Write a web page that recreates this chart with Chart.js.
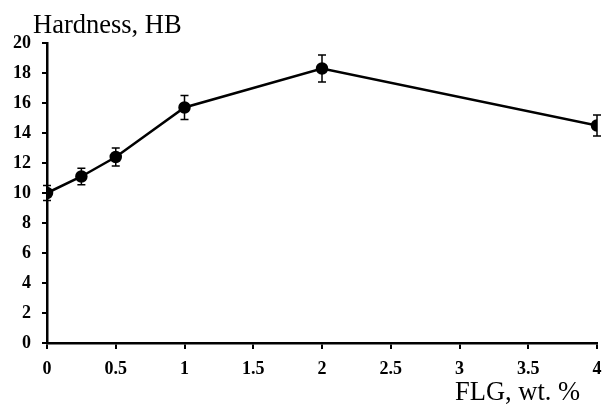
<!DOCTYPE html>
<html lang="en">
<head>
<meta charset="UTF-8">
<title>Hardness vs FLG content</title>
<script src="https://cdn.jsdelivr.net/npm/chart.js"></script>
<style>
    html, body { margin: 0; padding: 0; background: #fff; }
    #wrap { width: 608px; height: 405px; position: relative; }
</style>
</head>
<body>
<div id="wrap"><canvas id="hardChart"></canvas></div>
<script>
    // FLG content, wt. %
    const flg = [0, 0.25, 0.5, 1, 2, 4];
    // Brinell hardness and its spread
    const hardness = [10.0, 11.1, 12.4, 15.7, 18.3, 14.5];
    const hardnessErr = [0.5, 0.55, 0.6, 0.8, 0.9, 0.7];
    const xTicks = [0, 0.5, 1, 1.5, 2, 2.5, 3, 3.5, 4];
    const yTicks = [0, 2, 4, 6, 8, 10, 12, 14, 16, 18, 20];

    const tickFont = { family: "'Liberation Serif', 'Times New Roman', serif", size: 18, weight: 'bold' };
    const titleFont = "26.5px 'Liberation Serif', 'Times New Roman', serif";

    // vertical error bars with caps
    const errorBars = {
        id: 'errorBars',
        afterDatasetsDraw(chart) {
            const ctx = chart.ctx;
            const xs = chart.scales.x, ys = chart.scales.y;
            ctx.save();
            ctx.strokeStyle = '#000';
            ctx.lineWidth = 1.5;
            flg.forEach((v, i) => {
                const px = xs.getPixelForValue(v);
                const top = ys.getPixelForValue(hardness[i] + hardnessErr[i]);
                const bot = ys.getPixelForValue(hardness[i] - hardnessErr[i]);
                ctx.beginPath();
                ctx.moveTo(px, top); ctx.lineTo(px, bot);
                ctx.moveTo(px - 4, top); ctx.lineTo(px + 4, top);
                ctx.moveTo(px - 4, bot); ctx.lineTo(px + 4, bot);
                ctx.stroke();
            });
            ctx.restore();
        }
    };

    // axis captions
    const axisCaptions = {
        id: 'axisCaptions',
        afterDraw(chart) {
            const ctx = chart.ctx;
            ctx.save();
            ctx.fillStyle = '#000';
            ctx.font = titleFont;
            ctx.textBaseline = 'alphabetic';
            ctx.textAlign = 'left';
            ctx.fillText('Hardness, HB', 33, 33);
            ctx.fillText('FLG, wt. %', 455, 400);
            ctx.restore();
        }
    };

    new Chart(document.getElementById('hardChart'), {
        type: 'scatter',
        data: {
            datasets: [{
                data: flg.map((v, i) => ({ x: v, y: hardness[i] })),
                showLine: true,
                borderColor: '#000',
                borderWidth: 2.5,
                backgroundColor: '#000',
                pointRadius: 5,
                pointHoverRadius: 5
            }]
        },
        options: {
            responsive: true,
            maintainAspectRatio: false,
            animation: false,
            layout: { padding: { top: 43, right: 11, left: 0, bottom: 0 } },
            plugins: { legend: { display: false }, tooltip: { enabled: false } },
            scales: {
                x: {
                    type: 'linear',
                    min: 0, max: 4,
                    afterBuildTicks(axis) { axis.ticks = xTicks.map(v => ({ value: v })); },
                    afterFit(axis) {
                        axis.height = 62;
                        // keep the end labels from pushing the plot inwards
                        axis.paddingLeft = 0;
                        axis.paddingRight = 0;
                    },
                    border: { color: '#000', width: 2.5 },
                    grid: { drawOnChartArea: false, color: '#000', lineWidth: 2, tickLength: 6 },
                    ticks: { color: '#000', font: tickFont, padding: 10, maxRotation: 0,
                             callback: v => String(v) }
                },
                y: {
                    min: 0, max: 20,
                    afterBuildTicks(axis) { axis.ticks = yTicks.map(v => ({ value: v })); },
                    afterFit(axis) {
                        axis.width = 47;
                        axis.paddingTop = 0;
                        axis.paddingBottom = 0;
                    },
                    border: { color: '#000', width: 2.5 },
                    grid: { drawOnChartArea: false, color: '#000', lineWidth: 2, tickLength: 5 },
                    ticks: { color: '#000', font: tickFont, padding: 11, callback: v => String(v) }
                }
            }
        },
        plugins: [errorBars, axisCaptions]
    });
</script>
</body>
</html>
